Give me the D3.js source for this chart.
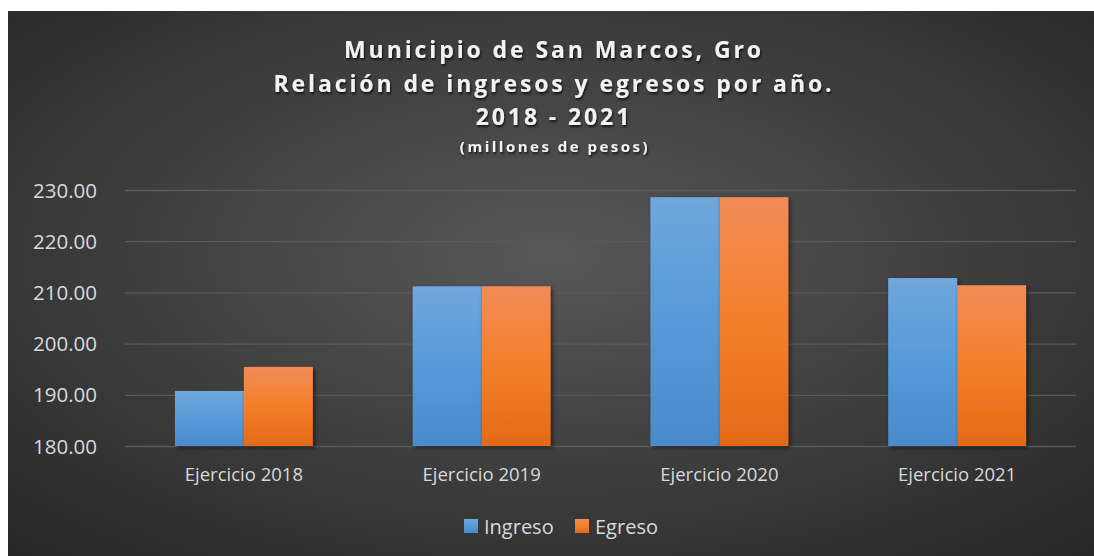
<!DOCTYPE html>
<html>
<head>
<meta charset="utf-8">
<script src="https://cdn.jsdelivr.net/npm/d3@7"></script>
<style>
  body { margin: 0; background: #fff; }
  svg { display: block; }
</style>
</head>
<body>
<svg id="chart" width="1094" height="556"></svg>
<script>
// data (millones de pesos)
const categories = ["Ejercicio 2018", "Ejercicio 2019", "Ejercicio 2020", "Ejercicio 2021"];
const seriesNames = ["Ingreso", "Egreso"];
const ingreso = [190.75, 211.2, 228.6, 212.8];
const egreso = [195.45, 211.2, 228.6, 211.4];
const yTicks = [180, 190, 200, 210, 220, 230];
const titleLines = ["Municipio de San Marcos, Gro", "Relación de ingresos y egresos por año.", "2018 - 2021"];
const subtitle = "(millones de pesos)";

const svg = d3.select("#chart");
const defs = svg.append("defs");

// background radial gradient
const bg = defs.append("radialGradient").attr("id", "bg")
    .attr("cx", "50%").attr("cy", "45%").attr("r", "75%");
bg.append("stop").attr("offset", "0%").attr("stop-color", "#585858");
bg.append("stop").attr("offset", "100%").attr("stop-color", "#262626");

function barGrad(id, c0, c1, c2) {
    let g = defs.append("linearGradient").attr("id", id)
        .attr("x1", 0).attr("y1", 0).attr("x2", 0).attr("y2", 1);
    g.append("stop").attr("offset", "0%").attr("stop-color", c0);
    g.append("stop").attr("offset", "50%").attr("stop-color", c1);
    g.append("stop").attr("offset", "100%").attr("stop-color", c2);
}
barGrad("gIngreso", "#70a7dc", "#569ad9", "#4a8acb");
barGrad("gEgreso", "#f18c57", "#f47f2b", "#e36a17");

const shadow = defs.append("filter").attr("id", "shadow")
    .attr("x", "-20%").attr("y", "-20%").attr("width", "150%").attr("height", "150%");
shadow.append("feDropShadow").attr("dx", 2).attr("dy", 2).attr("stdDeviation", 2)
    .attr("flood-color", "#000").attr("flood-opacity", 0.55);

const tshadow = defs.append("filter").attr("id", "tshadow");
tshadow.append("feDropShadow").attr("dx", 1).attr("dy", 2).attr("stdDeviation", 1.2)
    .attr("flood-color", "#000").attr("flood-opacity", 0.7);

svg.append("rect").attr("x", 8).attr("y", 11).attr("width", 1086).attr("height", 545)
    .attr("fill", "url(#bg)");

const font = "'Open Sans', 'Liberation Sans', sans-serif";

// title
const titleY = [58, 92, 125];
svg.selectAll("text.title").data(titleLines).enter().append("text")
    .attr("class", "title")
    .attr("x", 554).attr("y", (d, i) => titleY[i])
    .attr("text-anchor", "middle")
    .attr("font-family", font).attr("font-weight", "bold")
    .attr("font-size", 23).attr("letter-spacing", "2.9px")
    .attr("fill", "#f2f2f2").attr("filter", "url(#tshadow)")
    .text(d => d);
svg.append("text")
    .attr("x", 555).attr("y", 152).attr("text-anchor", "middle")
    .attr("font-family", font).attr("font-weight", "bold")
    .attr("font-size", 15).attr("letter-spacing", "2.5px")
    .attr("fill", "#f2f2f2").attr("filter", "url(#tshadow)")
    .text(subtitle);

// scales
const x0 = d3.scaleBand().domain(categories).range([125, 1076]).paddingInner(0.42).paddingOuter(0.21);
const x1 = d3.scaleBand().domain(seriesNames).range([0, x0.bandwidth()]);
const y = d3.scaleLinear().domain([180, 230]).range([446, 190]);

// gridlines
svg.append("g").selectAll("line").data(yTicks).enter().append("line")
    .attr("x1", 125).attr("x2", 1076)
    .attr("y1", d => y(d) + 0.5).attr("y2", d => y(d) + 0.5)
    .attr("stroke", "#5a5a5a").attr("stroke-width", 1.3);

// y axis labels
const yAxis = d3.axisLeft(y).tickValues(yTicks).tickFormat(d3.format(".2f")).tickSize(0).tickPadding(0);
const ya = svg.append("g").attr("transform", "translate(97,0)").call(yAxis);
ya.select(".domain").remove();
ya.selectAll("text").attr("font-family", font).attr("font-size", 20.5)
    .attr("fill", "#d9d9d9").attr("dy", "0.35em");

// bars
const rows = categories.map((c, i) => ({ cat: c, vals: [ingreso[i], egreso[i]] }));
const grads = ["url(#gIngreso)", "url(#gEgreso)"];
const groups = svg.append("g").selectAll("g").data(rows).enter().append("g")
    .attr("transform", d => `translate(${x0(d.cat)},0)`);
groups.selectAll("rect").data(d => d.vals.map((v, k) => ({ k, v }))).enter().append("rect")
    .attr("x", d => x1(seriesNames[d.k]))
    .attr("y", d => y(d.v))
    .attr("width", x1.bandwidth())
    .attr("height", d => y(180) - y(d.v))
    .attr("fill", d => grads[d.k])
    .attr("filter", "url(#shadow)");

// x axis labels
const xAxis = d3.axisBottom(x0).tickSize(0).tickPadding(0);
const xa = svg.append("g").attr("transform", "translate(0,481)").call(xAxis);
xa.select(".domain").remove();
xa.selectAll("text").attr("font-family", font).attr("font-size", 18.5)
    .attr("fill", "#d9d9d9").attr("dy", 0);

// legend
const legendX = [464, 575];
const leg = svg.append("g").selectAll("g").data(seriesNames).enter().append("g")
    .attr("transform", (d, i) => `translate(${legendX[i]},519)`);
leg.append("rect").attr("width", 14).attr("height", 14)
    .attr("fill", (d, i) => grads[i]);
leg.append("text").attr("x", 20).attr("y", 15)
    .attr("font-family", font).attr("font-size", 20).attr("fill", "#d9d9d9")
    .text(d => d);
</script>
</body>
</html>
